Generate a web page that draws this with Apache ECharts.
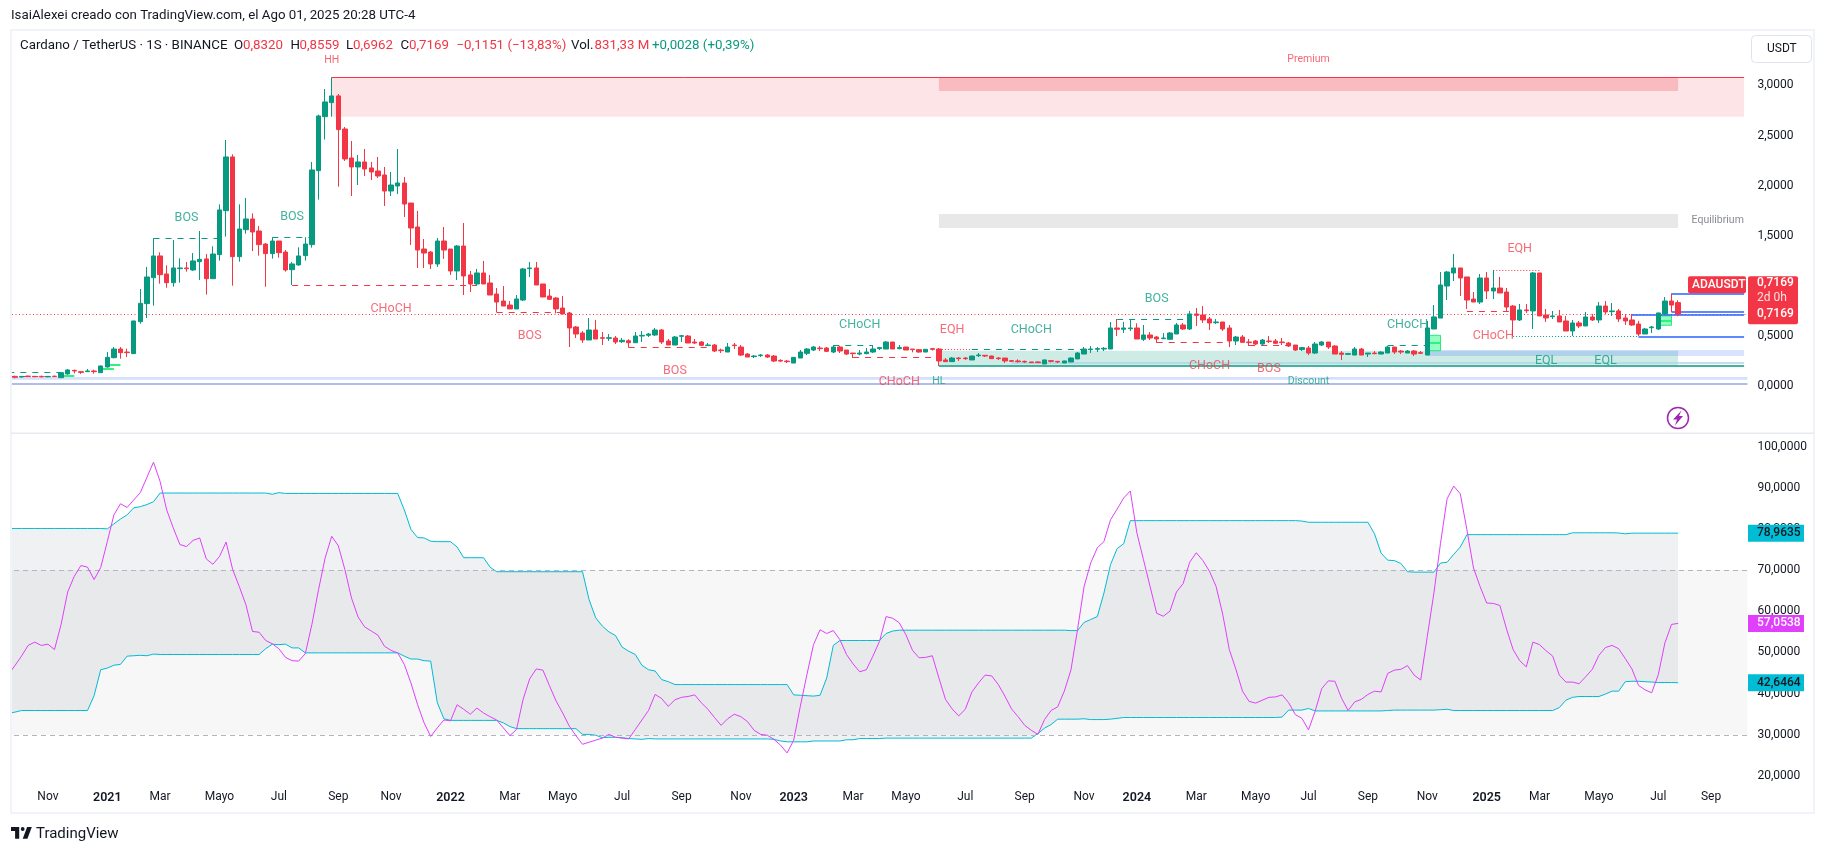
<!DOCTYPE html>
<html><head><meta charset="utf-8">
<style>html,body{margin:0;padding:0;background:#fff}#c{width:1826px;height:853px}</style>
<script src="https://cdn.jsdelivr.net/npm/echarts@6/dist/echarts.min.js"></script>
</head><body><div id="c"></div>
<script>
// Weekly candles [open, close, low, high]; the first week is cut off by the left edge
const ohlc2020=['-',[.096,.087,.077,.103],[.090,.096,.085,.099],[.099,.094,.090,.103],[.096,.093,.088,.100],[.096,.092,.085,.103],[.092,.096,.087,.100],[.098,.094,.090,.103],[.083,.133,.083,.135],[.120,.160,.113,.170],[.156,.150,.126,.163],[.143,.136,.120,.150],[.143,.150,.140,.170],[.150,.143,.123,.163],[.133,.200,.133,.203]];
const ohlc2021=[[.190,.286,.183,.339],[.283,.369,.276,.389],[.369,.333,.273,.389],[.339,.333,.289,.373],[.323,.649,.323,.652],[.642,.825,.622,.968],[.822,1.088,.679,1.188],[1.081,1.298,.802,1.474],[1.298,1.111,1.021,1.334],[1.118,1.031,.981,1.204],
[1.031,1.178,.991,1.457],[1.171,1.178,1.031,1.274],[1.178,1.171,1.141,1.238],[1.158,1.248,1.148,1.327],[1.241,1.264,1.058,1.547],[1.268,1.071,.912,1.317],[1.071,1.317,1.071,1.394],[1.311,1.757,1.251,1.813],[1.750,2.286,1.490,2.455],[2.286,1.291,1.001,2.312],
[1.291,1.567,1.241,1.813],[1.560,1.667,1.520,1.876],[1.667,1.537,1.347,1.723],[1.547,1.411,1.301,1.597],[1.417,1.321,.991,1.427],[1.321,1.447,1.271,1.484],[1.447,1.331,1.281,1.447],[1.337,1.158,1.141,1.357],[1.161,1.218,1.008,1.238],[1.208,1.298,1.201,1.384],
[1.301,1.417,1.251,1.484],[1.411,2.156,1.381,2.236],[2.149,2.695,1.860,2.708],[2.688,2.835,2.459,2.964],[2.828,2.895,2.688,3.081],[2.895,2.559,1.990,2.914],[2.565,2.266,2.246,2.585],[2.276,2.186,1.896,2.445],[2.186,2.236,2.006,2.306],[2.236,2.166,2.096,2.365],
[2.176,2.136,2.056,2.236],[2.146,2.096,2.076,2.286],[2.106,1.946,1.797,2.186],[1.946,2.006,1.896,2.136],[1.996,2.026,1.916,2.365],[2.026,1.816,1.687,2.086],[1.826,1.577,1.407,1.826],[1.587,1.357,1.178,1.747],[1.367,1.327,1.178,1.467],[1.337,1.218,1.168,1.347],
[1.218,1.447,1.188,1.477],[1.447,1.357,1.268,1.587]];
const ohlc2022=[[1.367,1.148,1.108,1.367],[1.148,1.397,1.058,1.407],[1.397,1.098,.908,1.627],[1.108,1.018,.938,1.148],[1.018,1.128,.998,1.168],[1.128,1.018,1.018,1.248],[1.028,.908,.908,1.108],[.918,.838,.735,.978],[.848,.798,.798,.998],[.808,.769,.769,.848],
[.769,.868,.769,.908],[.858,1.168,.848,1.178],[1.171,1.178,1.088,1.238],[1.178,1.008,1.008,1.238],[1.018,.888,.888,1.018],[.898,.865,.858,.968],[.878,.769,.725,.888],[.778,.719,.719,.898],[.729,.579,.389,.739],[.589,.519,.479,.599],
[.529,.459,.429,.549],[.459,.559,.459,.679],[.559,.469,.469,.659],[.482,.476,.409,.539],[.476,.482,.449,.519],[.479,.439,.419,.499],[.442,.456,.429,.479],[.452,.432,.383,.466],[.432,.499,.432,.539],[.499,.506,.439,.549],
[.506,.519,.489,.529],[.509,.559,.499,.579],[.559,.439,.419,.569],[.449,.409,.409,.469],[.409,.489,.409,.499],[.496,.502,.439,.509],[.499,.429,.429,.509],[.439,.429,.419,.469],[.439,.406,.399,.449],[.403,.409,.399,.429],
[.409,.349,.339,.419],[.359,.353,.329,.373],[.339,.389,.339,.429],[.409,.403,.369,.429],[.389,.309,.299,.409],[.319,.289,.289,.329],[.293,.299,.279,.309],[.303,.309,.289,.319],[.309,.289,.279,.319],[.299,.249,.239,.309],
[.256,.249,.239,.266],[.249,.243,.229,.259]];
const ohlc2023=[[.229,.286,.229,.289],[.279,.339,.279,.359],[.326,.369,.309,.379],[.359,.389,.349,.399],[.379,.373,.349,.399],[.379,.346,.339,.389],[.339,.389,.329,.409],[.389,.349,.329,.399],[.359,.319,.309,.359],[.329,.323,.279,.329],
[.319,.329,.306,.359],[.323,.339,.316,.379],[.339,.369,.329,.409],[.373,.383,.359,.389],[.369,.439,.369,.449],[.439,.369,.369,.439],[.373,.383,.366,.409],[.389,.359,.359,.389],[.369,.363,.336,.369],[.363,.339,.333,.369],
[.339,.366,.339,.369],[.373,.366,.353,.379],[.369,.250,.200,.379],[.260,.243,.240,.279],[.243,.279,.240,.289],[.279,.273,.250,.289],[.279,.273,.260,.289],[.260,.299,.260,.303],[.303,.309,.289,.329],[.306,.299,.289,.309],
[.299,.273,.270,.303],[.279,.273,.260,.289],[.279,.250,.230,.279],[.253,.246,.240,.260],[.250,.243,.233,.266],[.246,.240,.230,.253],[.240,.233,.230,.240],[.240,.233,.230,.246],[.220,.260,.220,.263],[.253,.246,.236,.260],
[.246,.240,.230,.249],[.230,.250,.228,.253],[.240,.279,.238,.285],[.270,.329,.270,.339],[.319,.369,.319,.389],[.363,.369,.329,.399],[.366,.373,.339,.389],[.369,.376,.349,.389],[.369,.579,.369,.639],[.579,.566,.499,.669],
[.566,.579,.529,.639],[.572,.579,.549,.669]];
const ohlc2024=[[.579,.469,.469,.625],[.466,.509,.449,.609],[.509,.479,.459,.539],[.489,.469,.432,.499],[.472,.479,.469,.529],[.466,.529,.466,.539],[.519,.609,.519,.629],[.609,.569,.559,.629],[.569,.719,.559,.749],[.719,.705,.599,.779],
[.709,.659,.629,.798],[.669,.629,.559,.689],[.632,.639,.619,.669],[.639,.569,.549,.639],[.579,.449,.389,.609],[.449,.489,.409,.499],[.489,.436,.429,.509],[.439,.433,.399,.469],[.449,.419,.409,.459],[.419,.459,.399,.469],
[.449,.443,.429,.499],[.449,.426,.419,.469],[.439,.433,.409,.479],[.429,.399,.389,.439],[.409,.359,.349,.409],[.363,.383,.349,.389],[.379,.329,.309,.399],[.329,.419,.319,.439],[.409,.439,.399,.449],[.439,.389,.369,.439],
[.399,.319,.319,.409],[.329,.316,.259,.349],[.316,.323,.309,.329],[.309,.369,.309,.389],[.369,.309,.309,.379],[.319,.329,.289,.329],[.329,.323,.316,.349],[.319,.339,.319,.346],[.329,.389,.329,.399],[.389,.339,.319,.389],
[.349,.339,.319,.359],[.329,.349,.329,.359],[.349,.319,.299,.359],[.333,.326,.319,.349],[.309,.579,.309,.649],[.569,.689,.569,.808],[.678,1.008,.678,1.138],[.998,1.138,.858,1.148],[1.128,1.178,1.048,1.317],[1.178,1.078,.898,1.178],
[1.088,.858,.769,1.088],[.868,.838,.838,.938],[.838,1.078,.818,1.118]];
const ohlc2025=[[1.078,.948,.868,1.138],[.948,.978,.868,1.158],[.978,.928,.928,1.088],[.938,.788,.749,.978],[.798,.659,.499,.808],[.659,.759,.649,.818],[.759,.752,.729,.818],[.749,1.128,.569,1.138],[1.128,.699,.699,1.128],[.709,.679,.639,.769],
[.692,.699,.669,.749],[.699,.639,.639,.759],[.649,.549,.549,.699],[.549,.629,.499,.659],[.629,.599,.579,.649],[.599,.689,.599,.739],[.689,.659,.649,.719],[.659,.798,.629,.838],[.798,.739,.719,.848],[.742,.749,.699,.828],
[.749,.669,.639,.769],[.679,.649,.609,.719],[.659,.609,.599,.719],[.619,.519,.499,.649],[.519,.569,.519,.579],[.582,.589,.529,.599],[.569,.729,.559,.732],[.719,.848,.719,.888],[.848,.808,.738,.925],[.8320,.7169,.6962,.8559]];

// RSI per week
const rsi2020=[44.6,46.8,49.1,51.7,52.5,51.7,52.0,50.7,56.8,64.7,68.5,71.1,70.7,67.7,70.6];
const rsi2021=[76.9,83.4,86.1,85.2,87.0,88.8,92.5,96.2,91.5,84.6,80.2,76.2,75.7,77.2,77.8,72.7,71.4,73.3,76.8,70.1,66.0,61.6,55.1,54.9,52.9,52.1,50.9,48.8,48.0,47.9,49.7,56.8,65.2,72.9,78.2,75.9,70.1,63.2,58.6,56.2,55.2,54.2,51.5,50.5,49.9,47.1,42.6,37.4,32.9,29.6,31.7,33.6];
const rsi2022=[33.4,37.3,36.2,35.0,36.5,35.3,34.4,33.6,31.7,29.8,31.3,38.6,43.6,46.0,45.7,41.9,38.2,35.3,32.1,29.8,27.7,28.2,28.7,29.2,30.1,29.4,29.2,29.0,31.3,33.6,35.9,39.8,38.8,36.9,38.5,39.1,39.3,39.7,37.8,36.2,34.2,32.3,33.9,35.0,34.4,33.2,31.1,30.1,29.9,28.9,27.5,25.6];
const rsi2023=[28.7,36.9,44.6,51.9,55.5,54.6,55.3,53.1,49.5,47.2,45.3,45.8,49.1,52.7,58.7,58.3,57.2,54.3,50.5,48.7,48.8,49.2,43.8,38.6,36.3,34.6,36.2,40.4,42.6,44.5,44.3,42.2,39.4,36.3,34.4,32.3,31.1,30.1,33.7,35.9,36.8,40.6,45.7,55.5,66.0,71.7,75.4,76.9,82.2,84.8,87.5,89.2];
const rsi2024=[79.0,72.5,66.0,59.5,58.8,60.0,64.7,66.7,71.9,74.2,72.3,69.7,66.0,59.3,50.7,45.9,40.6,38.1,37.7,38.4,39.1,39.2,39.7,37.8,34.9,34.0,31.2,35.7,41.2,43.1,43.0,38.9,35.9,38.0,38.6,39.8,40.6,40.4,44.9,45.7,45.9,46.8,44.5,43.3,53.9,64.4,76.5,87.3,90.4,88.5,79.8,70.5,66.0];
const rsi2025=[62.0,61.9,61.4,55.7,50.7,48.0,46.5,52.5,51.9,50.4,49.1,44.5,42.8,42.8,42.4,44.1,45.9,49.3,51.2,51.7,50.9,48.5,46.0,42.0,40.9,40.2,44.6,52.3,56.8,57.0538];

// Upper channel per week
const upper2020=[80.1,80.1,80.1,80.1,80.1,80.1,80.1,80.1,80.1,80.1,80.1,80.1,80.1,80.1,80.1];
const upper2021=[80.0,81.2,82.4,83.4,85.1,85.4,85.9,86.6,
88.7,88.7,88.7,88.7,88.7,88.7,88.7,88.7,88.7,88.7,88.7,88.7,88.7,88.7,88.7,88.7,88.7,88.4,88.8,
88.6,88.6,88.6,88.6,88.6,88.6,88.6,88.6,88.6,88.6,88.6,88.6,88.6,88.6,88.6,88.6,88.6,88.6,
84.6,79.9,77.9,77.8,77.0,76.9,76.9];
const upper2022=[76.9,75.6,73.0,73.0,73.0,73.0,70.7,
69.6,69.6,69.6,69.6,69.6,69.6,69.6,69.6,69.6,69.6,69.6,69.6,69.6,69.6,
62.8,58.4,56.4,55.0,54.1,51.3,50.3,49.5,46.9,45.8,45.5,43.4,42.9,
42.2,42.2,42.2,42.2,42.2,42.2,42.2,42.2,42.2,42.2,42.2,42.2,42.2,42.2,42.2,42.2,42.2,42.2];
const upper2023=[39.7,39.6,39.5,39.4,39.6,43.8,51.7,
52.9,52.9,52.9,52.9,52.9,52.9,52.9,54.6,55.2,
55.4,55.4,55.4,55.4,55.4,55.4,55.4,55.4,55.4,55.4,55.4,55.4,55.4,55.4,55.4,55.4,55.4,55.4,55.4,55.4,55.4,55.4,55.4,55.4,55.4,55.4,
55.3,55.3,57.3,58.0,58.7,64.4,71.3,75.2,76.4,82.0];
const upper2024=[82.0,82.0,82.0,82.0,82.0,82.0,82.0,82.0,82.0,82.0,82.0,82.0,82.0,82.0,82.0,82.0,82.0,82.0,82.0,82.0,82.0,82.0,82.0,82.0,82.0,
81.9,81.6,81.6,81.6,81.6,81.6,81.6,81.6,81.6,81.6,81.6,
78.8,74.1,72.4,72.3,71.6,69.6,69.5,69.5,69.5,69.5,
71.7,71.9,73.8,75.6,78.6,78.6,78.6];
const upper2025=[78.6,78.6,78.6,78.6,78.6,78.6,78.6,78.6,78.6,78.6,78.6,78.6,78.6,
79.05,79.05,79.05,79.05,79.05,79.05,79.05,79.0,78.8,
78.96,78.96,78.96,78.96,78.96,78.96,78.96,78.9635];

// Lower channel per week
const lower2020=[35.2,35.5,35.9,35.9,35.9,35.9,35.9,35.9,35.9,35.9,35.9,35.9,35.9,39.5,45.8];
const lower2021=[46.2,46.9,47.1,49.1,49.2,49.3,49.2,49.6,
49.5,49.5,49.5,49.5,49.5,49.5,49.5,49.5,49.5,49.5,49.5,49.5,49.5,49.5,49.5,49.5,
50.9,52.0,51.9,52.0,51.1,51.1,
49.9,49.9,49.9,49.9,49.9,49.9,49.9,49.9,49.9,49.9,49.9,49.9,49.9,49.9,49.9,
49.1,48.4,48.4,48.0,47.9,37.8,33.9];
const lower2022=[33.5,33.5,33.5,33.5,33.5,33.5,33.5,33.5,32.9,32.0,
31.5,31.5,31.5,31.5,31.5,31.5,31.5,31.5,31.5,31.5,
30.1,30.1,29.9,29.3,29.4,29.4,29.3,29.1,29.0,28.9,29.1,
29.0,29.0,29.0,29.0,29.0,29.0,29.0,29.0,29.0,29.0,29.0,29.0,29.0,29.0,29.0,29.0,29.0,29.0,
28.9,28.5,28.3];
const lower2023=[28.3,28.3,28.3,28.5,28.5,28.5,28.5,28.5,28.8,28.8,29.1,29.1,29.1,29.1,
29.2,29.2,29.2,29.2,29.2,29.2,29.2,29.2,29.2,29.2,29.2,29.2,29.2,29.2,29.2,29.2,29.2,29.2,29.2,29.2,29.2,29.2,29.2,
30.3,31.6,32.5,33.8,33.8,33.8,33.8,33.9,33.7,33.7,33.7,33.8,34.0,34.2,34.2];
const lower2024=[34.2,34.2,34.2,34.2,34.2,34.2,34.2,34.2,34.2,34.2,34.2,34.2,34.2,34.2,34.2,34.2,34.2,34.2,34.2,34.2,34.2,34.2,
34.3,36.0,36.0,36.0,36.4,
35.8,35.8,35.8,35.8,35.8,35.8,35.8,35.8,35.8,35.8,35.8,35.9,
36.0,36.0,36.0,36.0,36.0,36.0,36.0,36.1,36.2,35.9,35.9,35.9,35.9,35.9];
const lower2025=[35.9,35.9,35.9,35.9,35.9,35.9,35.9,35.9,35.9,35.9,35.9,36.6,38.4,39.1,39.3,39.3,39.3,39.3,
39.9,40.6,40.6,42.9,43.0,43.0,42.9,42.8,42.7,42.7,42.7,42.6464];

// Time axis: [date of week, label]
const tickLabels=[['2020-11-02','Nov'],['2021-01-04','2021'],['2021-03-01','Mar'],['2021-05-03','Mayo'],['2021-07-05','Jul'],['2021-09-06','Sep'],['2021-11-01','Nov'],['2022-01-03','2022'],['2022-03-07','Mar'],['2022-05-02','Mayo'],['2022-07-04','Jul'],['2022-09-05','Sep'],['2022-11-07','Nov'],['2023-01-02','2023'],['2023-03-06','Mar'],['2023-05-01','Mayo'],['2023-07-03','Jul'],['2023-09-04','Sep'],['2023-11-06','Nov'],['2024-01-01','2024'],['2024-03-04','Mar'],['2024-05-06','Mayo'],['2024-07-01','Jul'],['2024-09-02','Sep'],['2024-11-04','Nov'],['2025-01-06','2025'],['2025-03-03','Mar'],['2025-05-05','Mayo'],['2025-07-07','Jul'],['2025-09-01','Sep']];

// Market-structure annotations, bars counted in weeks from 2021-01-04
const dashedGreen=[[-15,-7,.136],[7,17,1.474],[25,31,1.484],[110,116,.406],[131,148,.366],[153,164,.665],[194,200,.403]];
const dashedRed=[[-15,-8,.096],[28,56,1.005],[59,70,.735],[79,91,.386],[113,126,.286],[159,170,.436],[173,179,.409],[206,213,.745]];
const dottedRed=[[126,131,.369],[210,217,1.154]];
const dottedGreen=[[213,232,.496]];
const blueLevels=[[237,248,.925],[237,248,.745],[231,248,.716],[232,248,.496]];
const limeLevels=[[-7,-5,.100],[-1,1,.173],[0,2,.213],[200,202,.43],[235,237,.653]];
const zones=[
 {from:34,to:248,lo:2.688,hi:3.08,kind:'premium'},
 {from:126,to:238,lo:2.945,hi:3.08,kind:'premiumCore'},
 {from:126,to:238,lo:1.577,hi:1.716,kind:'equilibrium'},
 {from:126,to:238,lo:.207,hi:.352,kind:'discount'},
 {from:200,to:248,lo:.30,hi:.359,kind:'blue'},
 {from:200,to:202,lo:.352,hi:.506,kind:'lime'},
 {from:235,to:237,lo:.606,hi:.70,kind:'lime'}];
const stripLevels=[{lo:.063,hi:.09,kind:'paleBlue'},{lo:.01,hi:.03,kind:'midBlue'}];
const textMarks=[['BOS',12,1.697,'g'],['BOS',28,1.707,'g'],['HH',34,3.263,'rs'],['CHoCH',43,.791,'r'],['BOS',64,.519,'r'],['BOS',86,.17,'r'],['CHoCH',114,.629,'g'],['CHoCH',120,.063,'r'],['EQH',128,.582,'r'],['HL',126,.063,'gs'],['CHoCH',140,.582,'g'],['BOS',159,.888,'g'],['CHoCH',167,.213,'r'],['BOS',176,.183,'r'],['Discount',182,.06,'gs'],['CHoCH',197,.629,'g'],['EQH',214,1.387,'r'],['CHoCH',210,.522,'r'],['EQL',218,.272,'g'],['EQL',227,.272,'g'],['Premium',182,3.273,'rs'],['Equilibrium',244,1.667,'ks']];
const lastPrice=.7169;

const FONT='Roboto, "Liberation Sans", sans-serif';
const TXT='#131722', GREEN='#089981', RED='#f23645', CYAN='#00bcd4', MAG='#e040fb';
const FIRST=-15, LASTCAT=248;
const idx=k=>Math.round(k)-FIRST;
const categories=[];
{const t0=Date.UTC(2020,8,21);for(let k=0;k<=LASTCAT-FIRST;k++)categories.push(new Date(t0+k*7*864e5).toISOString().slice(0,10));}
const tickMap=Object.fromEntries(tickLabels);
const candles=[...ohlc2020,...ohlc2021,...ohlc2022,...ohlc2023,...ohlc2024,...ohlc2025];
const rsi=[...rsi2020,...rsi2021,...rsi2022,...rsi2023,...rsi2024,...rsi2025];
const upper=[...upper2020,...upper2021,...upper2022,...upper2023,...upper2024,...upper2025];
const lower=[...lower2020,...lower2021,...lower2022,...lower2023,...lower2024,...lower2025];
const span=upper.map((u,i)=>+(u-lower[i]).toFixed(3));
const fmt4=v=>v.toFixed(4).replace('.',',');

const seg=(list,style)=>list.map(([a,b,p])=>[{xAxis:idx(a),yAxis:p,lineStyle:style},{xAxis:idx(b),yAxis:p}]);
const zoneStyle={premium:{color:'rgba(242,54,69,.13)'},premiumCore:{color:'rgba(242,54,69,.24)'},equilibrium:{color:'#e8e8e8'},discount:{color:'rgba(8,153,129,.2)'},blue:{color:'rgba(41,98,255,.18)'},lime:{color:'rgba(0,255,110,.42)',borderColor:'#2ee87f',borderWidth:1},paleBlue:{color:'#d4e1fa'},midBlue:{color:'#aebdee'}};
const textStyle={g:{color:'rgba(8,153,129,.95)',fontSize:12.5},r:{color:'rgba(242,54,69,.92)',fontSize:12.5},gs:{color:'rgba(8,153,129,.95)',fontSize:10.5},rs:{color:'rgba(242,54,69,.95)',fontSize:10.5},ks:{color:'#6a6d78',fontSize:10.5}};

const option={
 animation:false,
 backgroundColor:'#fff',
 textStyle:{fontFamily:FONT},
 grid:[{left:5,width:1742.4,top:35.3,height:400.8},{left:5,width:1742.4,top:446.5,height:329.5}],
 xAxis:[
  {type:'category',gridIndex:0,data:categories,axisLine:{show:false},axisTick:{show:false},axisLabel:{show:false},splitLine:{show:false}},
  {type:'category',gridIndex:1,data:categories,axisLine:{show:false},axisTick:{show:false},splitLine:{show:false},
   axisLabel:{margin:15,color:TXT,fontSize:12,fontFamily:FONT,interval:(i,v)=>v in tickMap,
    formatter:v=>{const s=tickMap[v]||'';return /^\d+$/.test(s)?'{y|'+s+'}':s;},
    rich:{y:{fontWeight:600,fontSize:12.5,color:TXT,fontFamily:FONT}}}}],
 yAxis:[
  {type:'value',gridIndex:0,position:'right',min:-.5,max:3.5,interval:.5,axisLine:{show:false},axisTick:{show:false},splitLine:{show:false},
   axisLabel:{margin:10,color:TXT,fontSize:12,fontFamily:FONT,formatter:v=>(v<0||v>3)?'':fmt4(v)}},
  {type:'value',gridIndex:1,position:'right',min:20,max:100,interval:10,axisLine:{show:false},axisTick:{show:false},splitLine:{show:false},
   axisLabel:{margin:10,color:TXT,fontSize:12,fontFamily:FONT,formatter:v=>fmt4(v)}}],
 series:[
  {type:'line',name:'zones',xAxisIndex:0,yAxisIndex:0,data:[],z:1,silent:true,showSymbol:false,
   markArea:{silent:true,label:{show:false},emphasis:{disabled:true},data:[
     ...stripLevels.map(s=>[{yAxis:s.lo,itemStyle:zoneStyle[s.kind]},{yAxis:s.hi}]),
     ...zones.map(z=>[{xAxis:idx(z.from),yAxis:z.lo,itemStyle:zoneStyle[z.kind]},{xAxis:idx(z.to),yAxis:z.hi}])]}},
  {type:'line',name:'levels',xAxisIndex:0,yAxisIndex:0,data:[],z:2,silent:true,showSymbol:false,
   markLine:{silent:true,symbol:'none',label:{show:false},emphasis:{disabled:true},animation:false,data:[
     ...seg([[34,248,3.08]],{color:RED,width:1,type:'solid'}),
     ...seg([[126,248,.207]],{color:GREEN,width:1.5,type:'solid'}),
     ...seg([[137,248,.236]],{color:'#aed6e6',width:1.5,type:'solid'}),
     ...seg(dashedGreen,{color:GREEN,width:1,type:[6,6]}),
     ...seg(dashedRed,{color:RED,width:1,type:[6,6]}),
     ...seg(dottedRed,{color:RED,width:1,type:[1,2]}),
     ...seg(dottedGreen,{color:GREEN,width:1,type:[1,2]}),
     ...seg(limeLevels,{color:'#2ef27c',width:2,type:'solid'}),
     {yAxis:lastPrice,lineStyle:{color:RED,width:1,type:[1,2.5]}},
     ...seg(blueLevels,{color:'#2962ff',width:1.5,type:'solid'})]}},
  {type:'candlestick',name:'ADAUSDT',xAxisIndex:0,yAxisIndex:0,data:candles,z:5,barWidth:5,silent:true,
   itemStyle:{color:GREEN,color0:RED,borderColor:GREEN,borderColor0:RED,borderWidth:1}},
  {type:'scatter',name:'labels',xAxisIndex:0,yAxisIndex:0,z:7,symbolSize:1,silent:true,itemStyle:{color:'transparent'},
   data:textMarks.map(([t,k,p,s])=>({value:[idx(k),p],label:{show:true,position:'inside',offset:[0,1.7],formatter:t,fontFamily:FONT,...textStyle[s]}}))},
  {type:'line',name:'base',xAxisIndex:1,yAxisIndex:1,data:lower,stack:'ch',showSymbol:false,silent:true,lineStyle:{opacity:0},z:1,
   markArea:{silent:true,label:{show:false},emphasis:{disabled:true},itemStyle:{color:'rgba(120,123,134,.06)'},data:[[{yAxis:30},{yAxis:70}]]},
   markLine:{silent:true,symbol:'none',label:{show:false},emphasis:{disabled:true},lineStyle:{color:'#b2b5be',width:1,type:[5,4]},data:[{yAxis:70},{yAxis:30}]}},
  {type:'line',name:'channel',xAxisIndex:1,yAxisIndex:1,data:span,stack:'ch',showSymbol:false,silent:true,lineStyle:{opacity:0},z:2,areaStyle:{color:'rgba(120,123,134,.11)',opacity:1}},
  {type:'line',name:'Upper',xAxisIndex:1,yAxisIndex:1,data:upper,showSymbol:false,silent:true,lineStyle:{color:CYAN,width:1},z:4},
  {type:'line',name:'Lower',xAxisIndex:1,yAxisIndex:1,data:lower,showSymbol:false,silent:true,lineStyle:{color:CYAN,width:1},z:4},
  {type:'line',name:'RSI',xAxisIndex:1,yAxisIndex:1,data:rsi,showSymbol:false,silent:true,lineStyle:{color:MAG,width:1},z:5}
 ]
};

const chart=echarts.init(document.getElementById('c'),null,{renderer:'canvas',width:1826,height:853});
chart.setOption(option);

const T=(x,y,text,fill,size,extra)=>({type:'text',z:50,silent:true,style:Object.assign({x,y,text,fill,fontSize:size,fontFamily:FONT,verticalAlign:'middle'},extra||{})});
const R=(x,y,w,h,fill,extra)=>({type:'rect',z:49,silent:true,shape:Object.assign({x,y,width:w,height:h},(extra&&extra.shape)||{}),style:Object.assign({fill},(extra&&extra.style)||{})});
const P=(points,fill)=>({type:'polygon',z:51,silent:true,shape:{points},style:{fill}});
const yP=chart.convertToPixel({yAxisIndex:0},lastPrice);
const rsiBox=(v,fill,col)=>{const y=chart.convertToPixel({yAxisIndex:1},v);return [R(1748,y-8.5,56,17,fill),T(1757,y,fmt4(v),col,12,{fontWeight:500})];};
const BORDER='#f0f3fa';
const header=[[20,'Cardano / TetherUS · 1S · BINANCE',TXT],[234,'O',TXT],[243,'0,8320',RED],[290.5,'H',TXT],[299.5,'0,8559',RED],[346,'L',TXT],[353,'0,6962',RED],[400.5,'C',TXT],[409,'0,7169',RED],[456.5,'−0,1151 (−13,83%)',RED],[571,'Vol.',TXT],[594.5,'831,33 M',RED],[652,'+0,0028 (+0,39%)',GREEN]];
chart.setOption({graphic:{elements:[
 R(0,0,1826,29,'#fff'),R(0,29,10,785,'#fff'),
 R(10,29,1805,2,BORDER),R(10,29,2,785,BORDER),R(1813,29,2,785,BORDER),R(10,812,1805,2,BORDER),R(11,432.5,1803,1.5,'#e8eaf0'),
 T(11,16,'IsaiAlexei creado con TradingView.com, el Ago 01, 2025 20:28 UTC-4',TXT,13.3),
 ...header.map(([x,s,c])=>T(x,46,s,c,13.3)),
 R(1751.5,35.5,60,27,'#fff',{shape:{r:4},style:{stroke:'#e0e3eb',lineWidth:1}}),
 T(1767,49,'USDT',TXT,12),
 R(1688,yP-38,58,17,RED,{shape:{r:2}}),T(1692,yP-29.5,'ADAUSDT','#fff',12,{fontWeight:500}),
 R(1748,yP-38,50,48,RED,{shape:{r:2}}),
 T(1757,yP-31,fmt4(lastPrice),'#fff',12,{fontWeight:500}),T(1757,yP-16.5,'2d 0h','rgba(255,255,255,.85)',12),T(1757,yP,fmt4(lastPrice),'#fff',12,{fontWeight:500}),
 ...rsiBox(upper[upper.length-1],CYAN,'#131722'),
 ...rsiBox(rsi[rsi.length-1],MAG,'#fff'),
 ...rsiBox(lower[lower.length-1],CYAN,'#131722'),
 {type:'circle',z:50,silent:true,shape:{cx:1678,cy:418,r:10.5},style:{fill:'#fff',stroke:'#9c27b0',lineWidth:1.5}},
 P([[1681.5,410.5],[1673,419.5],[1677,419.5],[1675,425.5],[1683,416],[1679,416]],'#9c27b0'),
 P([[19.2,827],[11,827],[11,830.9],[15.1,830.9],[15.1,838.7],[19.2,838.7]],'#131722'),
 P([[27.4,838.7],[22.7,838.7],[27.1,827],[31.8,827]],'#131722'),
 {type:'circle',z:50,silent:true,shape:{cx:22.7,cy:829,r:1.9},style:{fill:'#131722'}},
 T(36,834,'TradingView','#131722',15)
]}});
</script></body></html>
